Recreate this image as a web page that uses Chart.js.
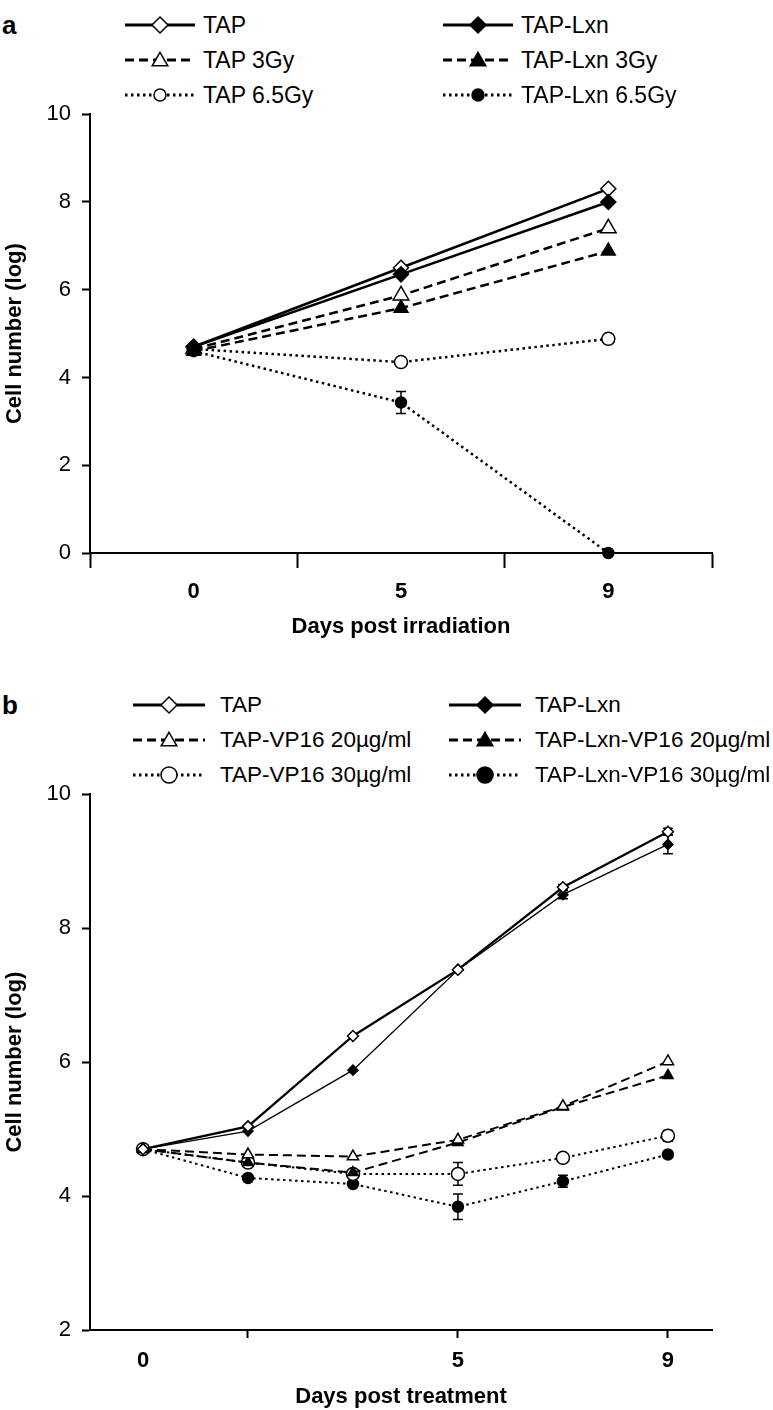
<!DOCTYPE html>
<html>
<head>
<meta charset="utf-8">
<script src="https://cdn.jsdelivr.net/npm/chart.js@4/dist/chart.umd.min.js"></script>
<style>
  body { margin: 0; width: 773px; height: 1410px; position: relative; background: #fff; overflow: hidden;
         font-family: "Liberation Sans", Arial, sans-serif; color: #000; }
  .rotulo-painel { position: absolute; left: 2px; font-weight: bold; font-size: 26px; line-height: 1; }
  .item-legenda { position: absolute; height: 24px; display: flex; align-items: center; white-space: nowrap; }
  .item-legenda canvas { display: block; }
  .item-legenda span { line-height: 24px; }
  canvas.grafico { position: absolute; left: 0; }
</style>
</head>
<body>

<div class="rotulo-painel" style="top:12px">a</div>
<div id="legenda-a"></div>
<canvas id="graficoA" class="grafico" width="773" height="560" style="top:90px"></canvas>

<div class="rotulo-painel" style="top:692px">b</div>
<div id="legenda-b"></div>
<canvas id="graficoB" class="grafico" width="773" height="640" style="top:770px"></canvas>

<script>
const FONTE = '"Liberation Sans", Arial, sans-serif';

// ---- Painel a: dias pós-irradiação ----
const diasA = ['0', '5', '9'];
const ticksXA = [-0.5, 0, 0.5, 1, 1.5, 2, 2.5];
const tapA = [4.7, 6.5, 8.3];
const tapLxnA = [4.7, 6.35, 8.0];
const tap3Gy = [4.65, 5.87, 7.4];
const tapLxn3Gy = [4.6, 5.58, 6.88];
const tap65Gy = [4.65, 4.35, 4.88];
const tapLxn65Gy = [4.6, 3.43, 0];
const erroTapLxn65Gy = [0, 0.25, 0];

// ---- Painel b: dias pós-tratamento ----
const rotulosB = ['0', '', '', '5', '', '9'];
const ticksXB = [0, 1, 3, 5];
const tapB = [4.7, 5.04, 6.39, 7.38, 8.61, 9.44];
const tapLxnB = [4.7, 4.97, 5.88, 7.38, 8.5, 9.25];
const vp20 = [4.7, 4.62, 4.59, 4.84, 5.34, 6.01];
const lxnVp20 = [4.7, 4.5, 4.35, 4.8, 5.33, 5.8];
const vp30 = [4.7, 4.5, 4.33, 4.33, 4.57, 4.9];
const lxnVp30 = [4.7, 4.27, 4.18, 3.84, 4.22, 4.62];
const erroTapB = [0, 0, 0, 0, 0.04, 0.05];
const erroTapLxnB = [0, 0, 0, 0, 0.06, 0.14];
const erroVp30 = [0, 0, 0.05, 0.17, 0.06, 0.08];
const erroLxnVp30 = [0, 0, 0.04, 0.19, 0.09, 0.04];

// Padrões de linha
const SOLIDO = [];
const TRACEJADO = [9, 5];
const PONTILHADO = [2.5, 3.5];

// Montar um dataset a partir de um array de valores
function serie(nome, valores, erros, estilo, ordem) {
    return {
        label: nome,
        data: valores.map((v, i) => ({ x: i, y: v })),
        erros: erros,
        order: ordem || 0,
        borderColor: '#000',
        borderWidth: estilo.largura,
        borderDash: estilo.traco,
        borderCapStyle: 'butt',
        pointStyle: estilo.marcador,
        pointRadius: estilo.raio,
        pointHoverRadius: estilo.raio,
        pointBackgroundColor: estilo.cheio ? '#000' : '#fff',
        pointBorderColor: '#000',
        pointBorderWidth: 1.5,
        tension: 0,
        fill: false,
        clip: false
    };
}

// Plugin simples para barras de erro (usa as escalas do gráfico)
const barrasErro = {
    id: 'barrasErro',
    beforeDatasetsDraw(chart) {
        const { ctx, scales: { x, y } } = chart;
        ctx.save();
        ctx.strokeStyle = '#000';
        ctx.lineWidth = 1.5;
        chart.data.datasets.forEach(ds => {
            if (!ds.erros) return;
            ds.data.forEach((p, j) => {
                const e = ds.erros[j];
                if (!e) return;
                const px = x.getPixelForValue(p.x);
                const topo = y.getPixelForValue(p.y + e);
                const base = y.getPixelForValue(p.y - e);
                ctx.beginPath();
                ctx.moveTo(px, topo); ctx.lineTo(px, base);
                ctx.moveTo(px - 5, topo); ctx.lineTo(px + 5, topo);
                ctx.moveTo(px - 5, base); ctx.lineTo(px + 5, base);
                ctx.stroke();
            });
        });
        ctx.restore();
    }
};

// Desenhar marcador da legenda
function desenharMarcador(ctx, tipo, x, y, r, cheio) {
    ctx.beginPath();
    if (tipo === 'rectRot') {
        ctx.moveTo(x, y - r); ctx.lineTo(x + r, y); ctx.lineTo(x, y + r); ctx.lineTo(x - r, y);
        ctx.closePath();
    } else if (tipo === 'triangle') {
        for (let k = 0; k < 3; k++) {
            const a = k * 2 * Math.PI / 3;
            const px = x + Math.sin(a) * r, py = y - Math.cos(a) * r + r * 0.15;
            if (k === 0) ctx.moveTo(px, py); else ctx.lineTo(px, py);
        }
        ctx.closePath();
    } else {
        ctx.arc(x, y, r, 0, Math.PI * 2);
    }
    ctx.fillStyle = cheio ? '#000' : '#fff';
    ctx.fill();
    ctx.lineWidth = 1.5;
    ctx.strokeStyle = '#000';
    ctx.stroke();
}

// Construir a legenda em HTML
function montarLegenda(idContainer, tamanhoFonte, itens) {
    const container = document.getElementById(idContainer);
    itens.forEach(item => {
        const div = document.createElement('div');
        div.className = 'item-legenda';
        div.style.left = item.x + 'px';
        div.style.top = (item.y - 12) + 'px';
        const cv = document.createElement('canvas');
        cv.width = item.largura; cv.height = 24;
        cv.style.marginRight = item.espaco + 'px';
        const ctx = cv.getContext('2d');
        ctx.strokeStyle = '#000';
        ctx.lineWidth = 2.8;
        ctx.setLineDash(item.estilo.traco);
        ctx.beginPath(); ctx.moveTo(0, 12); ctx.lineTo(item.largura, 12); ctx.stroke();
        ctx.setLineDash([]);
        desenharMarcador(ctx, item.estilo.marcador, item.largura / 2, 12, item.raio, item.estilo.cheio);
        const span = document.createElement('span');
        span.style.fontSize = tamanhoFonte + 'px';
        span.textContent = item.texto;
        div.appendChild(cv); div.appendChild(span);
        container.appendChild(div);
    });
}

// Opções de eixo comuns
function eixoY(min, max) {
    return {
        type: 'linear', min: min, max: max,
        ticks: { stepSize: 2, color: '#000', font: { family: FONTE, size: 22 }, padding: 11 },
        grid: { drawOnChartArea: false, tickLength: 8, tickColor: '#000', tickWidth: 2 },
        border: { color: '#000', width: 2 },
        title: { display: true, text: 'Cell number (log)', color: '#000',
                 font: { family: FONTE, size: 22, weight: 'bold' }, padding: { top: 2, bottom: 0 } },
        afterFit(escala) { escala.width = 90; }
    };
}

function eixoX(min, max, ticks, rotulo, marcaSemTick, tituloTexto, alturaEixo, comprTick, padTick, padTitulo) {
    return {
        type: 'linear', min: min, max: max,
        afterBuildTicks(escala) { escala.ticks = ticks.map(v => ({ value: v })); },
        ticks: {
            autoSkip: false, maxRotation: 0, color: '#000', padding: padTick,
            font: { family: FONTE, size: 22, weight: 'bold' },
            callback: v => rotulo(v)
        },
        grid: {
            drawOnChartArea: false, tickLength: comprTick, tickWidth: 2,
            tickColor: c => marcaSemTick(c.tick.value) ? 'rgba(0,0,0,0)' : '#000'
        },
        border: { color: '#000', width: 2 },
        title: { display: true, text: tituloTexto, color: '#000',
                 font: { family: FONTE, size: 22, weight: 'bold' }, padding: { top: 0, bottom: padTitulo } },
        afterFit(escala) { escala.height = alturaEixo; }
    };
}

function opcoesBase(escalas, padTopo) {
    return {
        responsive: false,
        animation: false,
        events: [],
        layout: { padding: { top: padTopo, right: 61, left: 0, bottom: 0 } },
        plugins: { legend: { display: false }, tooltip: { enabled: false } },
        scales: escalas
    };
}

// ---- Estilos das séries ----
const eA = {
    tap:     { largura: 2.5, traco: SOLIDO,     marcador: 'rectRot',  raio: 7.5, cheio: false },
    lxn:     { largura: 2.5, traco: SOLIDO,     marcador: 'rectRot',  raio: 7.5, cheio: true },
    tap3:    { largura: 2.5, traco: TRACEJADO,  marcador: 'triangle', raio: 9,   cheio: false },
    lxn3:    { largura: 2.5, traco: TRACEJADO,  marcador: 'triangle', raio: 8,   cheio: true },
    tap65:   { largura: 2.5, traco: PONTILHADO, marcador: 'circle',   raio: 6.5, cheio: false },
    lxn65:   { largura: 2.5, traco: PONTILHADO, marcador: 'circle',   raio: 5.5, cheio: true }
};
const eB = {
    tap:     { largura: 2.2, traco: SOLIDO,     marcador: 'rectRot',  raio: 5.5, cheio: false },
    lxn:     { largura: 1.3, traco: SOLIDO,     marcador: 'rectRot',  raio: 5,   cheio: true },
    vp20:    { largura: 2,   traco: TRACEJADO,  marcador: 'triangle', raio: 6.5, cheio: false },
    lxnVp20: { largura: 2,   traco: TRACEJADO,  marcador: 'triangle', raio: 6,   cheio: true },
    vp30:    { largura: 2,   traco: PONTILHADO, marcador: 'circle',   raio: 6.5, cheio: false },
    lxnVp30: { largura: 2,   traco: PONTILHADO, marcador: 'circle',   raio: 5.5, cheio: true }
};

// ---- Legendas ----
montarLegenda('legenda-a', 23, [
    { texto: 'TAP',           estilo: eA.tap,   raio: 8, x: 125, y: 25, largura: 70, espaco: 8 },
    { texto: 'TAP-Lxn',       estilo: eA.lxn,   raio: 8, x: 443, y: 25, largura: 70, espaco: 8 },
    { texto: 'TAP 3Gy',       estilo: eA.tap3,  raio: 9, x: 125, y: 60, largura: 70, espaco: 8 },
    { texto: 'TAP-Lxn 3Gy',   estilo: eA.lxn3,  raio: 9, x: 443, y: 60, largura: 70, espaco: 8 },
    { texto: 'TAP 6.5Gy',     estilo: eA.tap65, raio: 6, x: 125, y: 95, largura: 70, espaco: 8 },
    { texto: 'TAP-Lxn 6.5Gy', estilo: eA.lxn65, raio: 6, x: 443, y: 95, largura: 70, espaco: 8 }
]);
montarLegenda('legenda-b', 22.5, [
    { texto: 'TAP',                   estilo: eB.tap,     raio: 8, x: 133, y: 705, largura: 72, espaco: 15 },
    { texto: 'TAP-Lxn',               estilo: eB.lxn,     raio: 8, x: 449, y: 705, largura: 72, espaco: 14 },
    { texto: 'TAP-VP16 20µg/ml',      estilo: eB.vp20,    raio: 9, x: 133, y: 740, largura: 72, espaco: 15 },
    { texto: 'TAP-Lxn-VP16 20µg/ml',  estilo: eB.lxnVp20, raio: 9, x: 449, y: 740, largura: 72, espaco: 14 },
    { texto: 'TAP-VP16 30µg/ml',      estilo: eB.vp30,    raio: 8, x: 133, y: 775, largura: 72, espaco: 15 },
    { texto: 'TAP-Lxn-VP16 30µg/ml',  estilo: eB.lxnVp30, raio: 8, x: 449, y: 775, largura: 72, espaco: 14 }
]);

// ---- Gráfico a ----
// marcadores cheios por cima dos vazios (order menor = desenhado por último)
new Chart(document.getElementById('graficoA'), {
    type: 'line',
    data: {
        datasets: [
            serie('TAP', tapA, null, eA.tap, 1),
            serie('TAP-Lxn', tapLxnA, null, eA.lxn, 0),
            serie('TAP 3Gy', tap3Gy, null, eA.tap3, 1),
            serie('TAP-Lxn 3Gy', tapLxn3Gy, null, eA.lxn3, 0),
            serie('TAP 6.5Gy', tap65Gy, null, eA.tap65, 1),
            serie('TAP-Lxn 6.5Gy', tapLxn65Gy, erroTapLxn65Gy, eA.lxn65, 0)
        ]
    },
    options: opcoesBase({
        x: eixoX(-0.5, 2.5, ticksXA,
                 v => Number.isInteger(v) ? diasA[v] : '',
                 v => Number.isInteger(v),
                 'Days post irradiation', 97, 15, 11, 10),
        y: eixoY(0, 10)
    }, 18),
    plugins: [barrasErro]
});

// ---- Gráfico b ----
new Chart(document.getElementById('graficoB'), {
    type: 'line',
    data: {
        datasets: [
            serie('TAP', tapB, erroTapB, eB.tap),
            serie('TAP-Lxn', tapLxnB, erroTapLxnB, eB.lxn),
            serie('TAP-VP16 20µg/ml', vp20, null, eB.vp20),
            serie('TAP-Lxn-VP16 20µg/ml', lxnVp20, null, eB.lxnVp20),
            serie('TAP-VP16 30µg/ml', vp30, erroVp30, eB.vp30),
            serie('TAP-Lxn-VP16 30µg/ml', lxnVp30, erroLxnVp30, eB.lxnVp30)
        ]
    },
    options: opcoesBase({
        x: eixoX(-0.505, 5.42, ticksXB,
                 v => rotulosB[v] || '',
                 v => v === 0,
                 'Days post treatment', 80, 8, 10, 0),
        y: eixoY(2, 10)
    }, 21),
    plugins: [barrasErro]
});
</script>
</body>
</html>
